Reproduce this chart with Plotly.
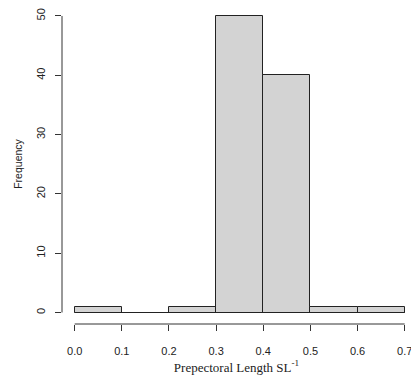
import plotly.graph_objects as go

# Histogram data (bin edges and counts)
bin_edges = [0.0, 0.1, 0.2, 0.3, 0.4, 0.5, 0.6, 0.7]
counts = [1, 0, 1, 50, 40, 1, 1]
x_ticks = [0.0, 0.1, 0.2, 0.3, 0.4, 0.5, 0.6, 0.7]
y_ticks = [0, 10, 20, 30, 40, 50]

centers = [(a + b) / 2 for a, b in zip(bin_edges[:-1], bin_edges[1:])]
widths = [b - a for a, b in zip(bin_edges[:-1], bin_edges[1:])]

X_RANGE = [-0.0269, 0.7134]
Y_RANGE = [-1.94, 52.02]

fig = go.Figure()
fig.add_trace(go.Bar(
    x=centers, y=counts, width=widths,
    marker=dict(color="#d3d3d3", line=dict(color="#222222", width=1)),
    hoverinfo="skip",
))
# bottom borders (zero-height bins drawn as a line, like R)
fig.add_trace(go.Scatter(
    x=[bin_edges[0], bin_edges[-1]], y=[0, 0], mode="lines",
    line=dict(color="#222222", width=1), hoverinfo="skip",
))

def fx(v):
    return (v - X_RANGE[0]) / (X_RANGE[1] - X_RANGE[0])

def fy(v):
    return (v - Y_RANGE[0]) / (Y_RANGE[1] - Y_RANGE[0])

# R-style axis lines spanning only the tick range
fig.add_shape(type="line", xref="x domain", yref="y domain",
              x0=fx(x_ticks[0]), x1=fx(x_ticks[-1]), y0=0, y1=0,
              line=dict(color="#333333", width=1))
fig.add_shape(type="line", xref="x domain", yref="y domain",
              x0=0, x1=0, y0=fy(y_ticks[0]), y1=fy(y_ticks[-1]),
              line=dict(color="#333333", width=1))

fig.update_layout(
    width=411, height=381,
    margin=dict(l=62, r=0, t=4, b=57),
    paper_bgcolor="white", plot_bgcolor="white",
    showlegend=False,
    bargap=0,
    font=dict(family="Liberation Sans, Arial, sans-serif", size=11, color="#222222"),
    xaxis=dict(
        range=X_RANGE, tickvals=x_ticks, tickformat=".1f",
        ticks="outside", ticklen=6, tickcolor="#333333", tickwidth=1,
        showline=False, showgrid=False, zeroline=False,
        ticklabelstandoff=11,
        ticklabeloverflow="allow",
        title=dict(text="Prepectoral Length SL<sup>-1</sup>",
                   font=dict(family="Liberation Serif, Times New Roman, serif", size=13),
                   standoff=6),
        automargin=False,
    ),
    yaxis=dict(
        range=Y_RANGE, tickvals=y_ticks,
        ticks="outside", ticklen=6, tickcolor="#333333", tickwidth=1,
        tickangle=-90,
        showline=False, showgrid=False, zeroline=False,
        ticklabelstandoff=6,
        title=dict(text="Frequency", font=dict(size=10.5), standoff=9),
        automargin=False,
    ),
)

fig.write_html("out.html")
